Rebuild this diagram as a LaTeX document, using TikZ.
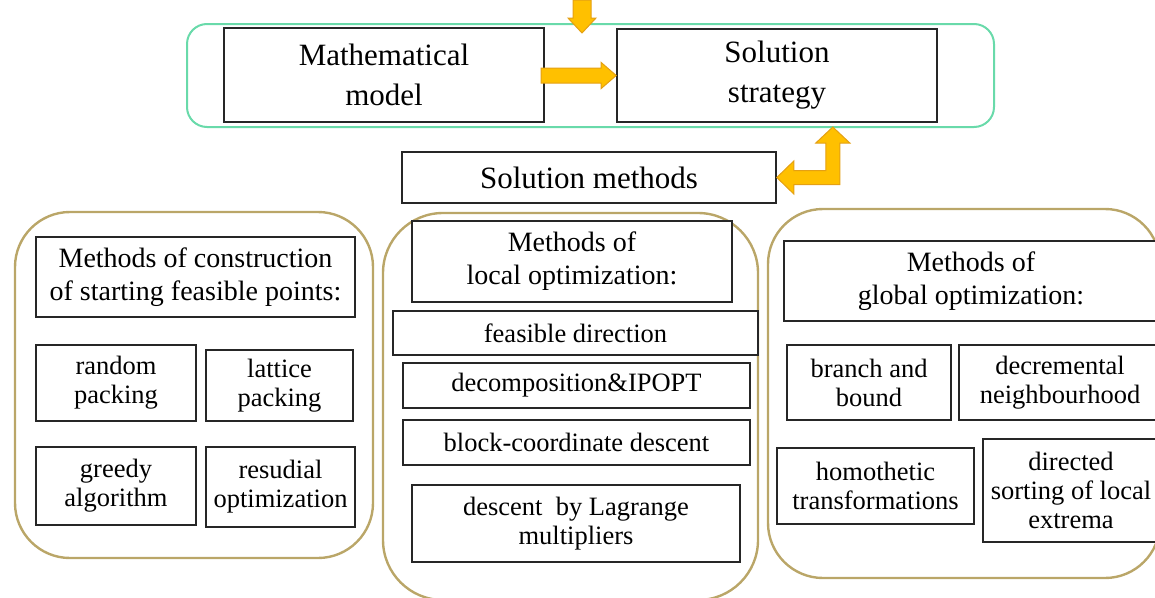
\documentclass[tikz,border=0pt]{standalone}
\usepackage{fontspec}
\setmainfont{Liberation Serif}
\usepackage{xcolor}
\usepackage{tikz}
\usetikzlibrary{positioning}

\definecolor{stagegreen}{RGB}{105,218,170}
\definecolor{groupgold}{RGB}{186,166,104}
\definecolor{arrowfill}{RGB}{255,192,0}
\definecolor{arrowedge}{RGB}{228,160,20}

\begin{document}
\begin{tikzpicture}[
  x=1pt, y=-1pt,
  box/.style={draw=black!85, line width=1.6pt, fill=white, align=center, inner sep=0pt},
  big/.style={box, font=\fontsize{31}{40}\selectfont},
  head/.style={box, font=\fontsize{28}{33}\selectfont},
  item/.style={box, font=\fontsize{26.5}{29}\selectfont},
  group/.style={draw=groupgold, line width=2.4pt, rounded corners=55pt},
  fat/.style={fill=arrowfill, draw=arrowedge, line width=1pt, line join=miter},
]
\useasboundingbox (0,0) rectangle (1155,597);
% stage frame and the three top boxes
\node[draw=stagegreen, line width=2pt, rounded corners=20pt,
      minimum width=807pt, minimum height=103pt] (stage) at (590.5,75.5) {};
\node[big, minimum width=320pt, minimum height=94pt] (model) at (384,75) {Mathematical\\model};
\node[big, minimum width=320pt, minimum height=93pt] (strategy) at (777,75.5) {Solution\\strategy};
\node[big, minimum width=374pt, minimum height=51pt] (methods) at (589,177.5) {Solution methods};
% method groups
\node[group, minimum width=358pt, minimum height=346pt] (gstart) at (194,385) {};
\node[group, rounded corners=60pt, minimum width=375pt, minimum height=387pt] (glocal) at (570.5,406.5) {};
\node[group, minimum width=392pt, minimum height=369pt] (gglobal) at (964,393.5) {};
% starting feasible points
\node[head, minimum width=319pt, minimum height=80pt] (hstart) at (195.5,277) {Methods of construction\\of starting feasible points:};
\node[item, minimum width=160pt, minimum height=76pt] (random) at (116,383) {random\\packing};
\node[item, minimum width=147pt, minimum height=71pt] (lattice) at (279.5,385.5) {lattice\\packing};
\node[item, minimum width=160pt, minimum height=78pt] (greedy) at (116,486) {greedy\\algorithm};
\node[item, minimum width=149pt, minimum height=80pt] (resid) at (280.5,487) {resudial\\optimization};
% local optimization
\node[head, minimum width=320pt, minimum height=81pt] (hlocal) at (572,261.5) {Methods of\\local optimization:};
\node[item, minimum width=365pt, minimum height=44pt] (feas) at (575.5,333) {feasible direction};
\node[item, minimum width=347pt, minimum height=45pt] (decomp) at (576.5,385.5) {decomposition\&IPOPT};
\node[item, minimum width=347pt, minimum height=45pt] (block) at (576.5,442.5) {block-coordinate descent};
\node[item, minimum width=328pt, minimum height=77pt] (lagr) at (576,523.5) {descent~ by Lagrange\\multipliers};
% global optimization
\node[head, minimum width=374pt, minimum height=80pt] (hglobal) at (971,281) {Methods of\\global optimization:};
\node[item, minimum width=164pt, minimum height=75pt] (branch) at (869,382.5) {branch and\\bound};
\node[item, minimum width=202pt, minimum height=75pt] (decr) at (1060,382.5) {decremental\\neighbourhood};
\node[item, minimum width=197pt, minimum height=76pt] (homot) at (875.5,486) {homothetic\\transformations};
\node[item, minimum width=176pt, minimum height=103pt] (sorting) at (1071,490.5) {directed\\sorting of local\\extrema};
% block arrows
\coordinate (entry) at (573,0);
\filldraw[fat] (entry) -- ++(18,0) -- ++(0,18) -- ++(5,0) -- ++(-14,15)
  -- ++(-14,-15) -- ++(5,0) -- cycle;
\filldraw[fat] (strategy.west) -- ++(-15,-13) -- ++(0,5.5) -- ++(-60,0)
  -- ++(0,15) -- ++(60,0) -- ++(0,5.5) -- cycle;
\filldraw[fat] (methods.east) -- ++(17,-16.5) -- ++(0,9.5) -- ++(32,0)
  -- ++(0,-27.5) -- ++(-10,0) -- ++(17,-16) -- ++(17,16) -- ++(-10,0)
  -- ++(0,41.5) -- ++(-46,0) -- ++(0,9.5) -- cycle;
\end{tikzpicture}
\end{document}
